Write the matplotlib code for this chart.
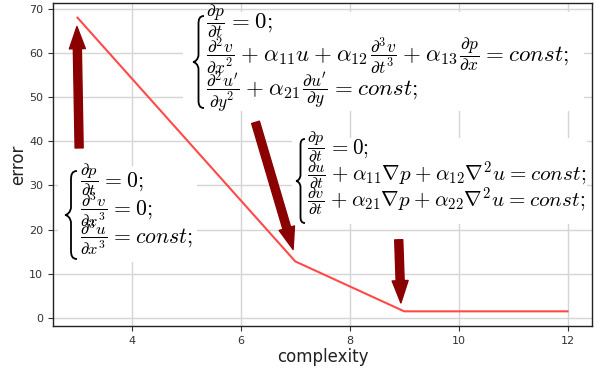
import matplotlib
matplotlib.use("Agg")
import matplotlib.pyplot as plt
from matplotlib.transforms import Affine2D
from matplotlib.patches import Rectangle, PathPatch
from matplotlib.path import Path

plt.rcParams['mathtext.fontset'] = 'cm'
plt.rcParams['font.family'] = ['DejaVu Sans']

# ---- data ----
complexity = [3, 7, 9, 12]
error = [68, 12.8, 1.5, 1.5]
x_ticks = [4, 6, 8, 10, 12]
y_ticks = [0, 10, 20, 30, 40, 50, 60, 70]

# equation lines: tuples are fractions (numerator, denominator), strings are plain math
eq_top = [
    [(r'\partial p', r'\partial t'), r'= 0;'],
    [(r'\partial^2 v', r'\partial x^2'), r'+ \alpha_{11}u + \alpha_{12}',
     (r'\partial^3 v', r'\partial t^3'), r'+ \alpha_{13}', (r'\partial p', r'\partial x'), r'= const;'],
    [(r"\partial^2 u'", r'\partial y^2'), r'+ \alpha_{21}', (r"\partial u'", r'\partial y'), r'= const;'],
]
eq_mid = [
    [(r'\partial p', r'\partial t'), r'= 0;'],
    [(r'\partial u', r'\partial t'), r'+ \alpha_{11}\nabla p + \alpha_{12}\nabla^2 u = const;'],
    [(r'\partial v', r'\partial t'), r'+ \alpha_{21}\nabla p + \alpha_{22}\nabla^2 u = const;'],
]
eq_left = [
    [(r'\partial p', r'\partial t'), r'= 0;'],
    [(r'\partial^3 v', r'\partial x^3'), r'= 0;'],
    [(r'\partial^3 u', r'\partial x^3'), r'= const;'],
]

W, H = 598, 371
fig = plt.figure(figsize=(W / 100, H / 100), dpi=100)
ax = fig.add_axes([53 / W, 1 - 326 / H, (592 - 53) / W, (326 - 3) / H])

ax.plot(complexity, error, color='#ff4a4a', lw=1.5, zorder=2)
ax.set_xticks(x_ticks)
ax.set_yticks(y_ticks)
ax.grid(True, color='#d5d5d5', lw=1.0)
ax.set_axisbelow(True)
ax.tick_params(labelsize=8, colors='#333333', length=3.5)
for s in ax.spines.values():
    s.set_color('#222222')
    s.set_linewidth(1.0)
ax.set_xlabel('complexity', fontsize=12, color='#222222', labelpad=2)
ax.set_ylabel('error', fontsize=12, color='#222222', labelpad=1.5)

# arrows
ap = dict(facecolor='#8b0000', edgecolor='#8b0000', width=5.8, headwidth=11.5,
          headlength=16, shrink=0)
ax.annotate('', xy=(2.99, 66), xytext=(3.03, 38.5), arrowprops=ap)
ax.annotate('', xy=(6.96, 15.5), xytext=(6.27, 44.3), arrowprops=ap)
ax.annotate('', xy=(8.94, 3.4), xytext=(8.9, 17.7), arrowprops=ap)

# pixel transform (top-left origin)
T = Affine2D().scale(1 / W, -1 / H).translate(0, 1) + fig.transFigure
fig.canvas.draw()
REND = fig.canvas.get_renderer()


def brace(x_tip, x_right, y_top, y_bot):
    xm = (x_tip + x_right) / 2
    yc = (y_top + y_bot) / 2
    r = (x_right - x_tip) * 0.7
    verts = [(x_right, y_top),
             (xm + 0.2 * (x_right - xm), y_top), (xm, y_top + 0.4 * r), (xm, y_top + r),
             (xm, yc - r),
             (xm, yc - 0.3 * r), (x_tip + 0.3 * (xm - x_tip), yc), (x_tip, yc),
             (x_tip + 0.3 * (xm - x_tip), yc), (xm, yc + 0.3 * r), (xm, yc + r),
             (xm, y_bot - r),
             (xm, y_bot - 0.4 * r), (xm + 0.2 * (x_right - xm), y_bot), (x_right, y_bot)]
    codes = [Path.MOVETO, Path.CURVE4, Path.CURVE4, Path.CURVE4, Path.LINETO,
             Path.CURVE4, Path.CURVE4, Path.CURVE4, Path.CURVE4, Path.CURVE4, Path.CURVE4,
             Path.LINETO, Path.CURVE4, Path.CURVE4, Path.CURVE4]
    ax.add_patch(PathPatch(Path(verts, codes), transform=T, fill=False,
                           edgecolor='black', lw=1.3, zorder=4, clip_on=False))


FRAC_SCALE = 0.76


def layout_line(segs, x_left, bar_y, fs):
    em = fs * 100 / 72
    ffs = fs * FRAC_SCALE
    fem = ffs * 100 / 72
    x = x_left
    for i, seg in enumerate(segs):
        if isinstance(seg, tuple):
            if i > 0:
                x += 0.08 * em
            s = r'$\dfrac{' + seg[0] + '}{' + seg[1] + '}$'
            t = ax.text(x, bar_y + 0.25 * fem, s, transform=T, fontsize=ffs, ha='left',
                        va='baseline', color='black', zorder=4, clip_on=False)
            x += t.get_window_extent(REND).width + 0.06 * em
        else:
            body = seg.replace('=', r'\hspace{0.07}=\hspace{0.07}')
            body = body.replace('+', r'\hspace{0.04}+\hspace{0.04}')
            s = '${}' + body + '$'
            t = ax.text(x, bar_y + 0.25 * em, s, transform=T, fontsize=fs, ha='left',
                        va='baseline', color='black', zorder=4, clip_on=False)
            x += t.get_window_extent(REND).width


def eq_block(lines, x_left, bars, fs, box, br):
    x0, y0, x1, y1 = box
    ax.add_patch(Rectangle((x0, y0), x1 - x0, y1 - y0, transform=T,
                           facecolor='white', edgecolor='none', zorder=1.5))
    for segs, y in zip(lines, bars):
        layout_line(segs, x_left, y, fs)
    brace(*br)


eq_block(eq_top, 206, [22, 55, 89], 16.5, (183, 12, 584, 111), (193, 204, 16, 108))
eq_block(eq_mid, 307, [148, 175, 201], 15.2, (292, 138, 587, 224), (296, 305, 139, 223))
eq_block(eq_left, 80, [181, 209, 237], 15.7, (58, 166, 197, 262), (65, 77, 171, 259))

fig.savefig('out.png', dpi=100)
